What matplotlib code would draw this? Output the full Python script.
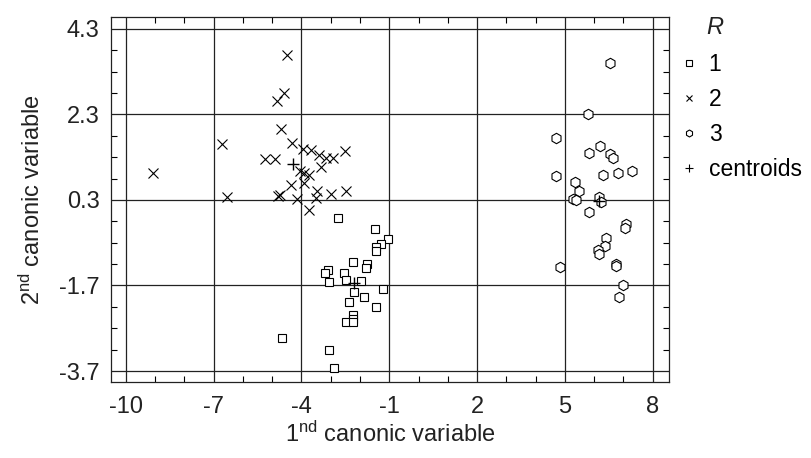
import matplotlib
matplotlib.use("Agg")
import matplotlib.pyplot as plt
from matplotlib.lines import Line2D
from matplotlib.ticker import MultipleLocator, FixedLocator

plt.rcParams['font.family'] = ['Liberation Sans', 'DejaVu Sans']
plt.rcParams['mathtext.fontset'] = 'custom'
plt.rcParams['mathtext.rm'] = 'Liberation Sans'
plt.rcParams['mathtext.it'] = 'Liberation Sans:italic'

# group R = 1 (squares)
r1_x = [-2.75, -1.50, -1.04, -1.28, -1.45, -1.45, -2.23, -1.75, -1.81, -3.08,
        -3.20, -2.55, -2.47, -3.07, -1.95, -2.22, -1.21, -1.87, -2.36, -1.46,
        -2.23, -2.23, -2.47, -2.23, -4.66, -3.05, -2.88]
r1_y = [-0.12, -0.38, -0.61, -0.74, -0.81, -0.90, -1.14, -1.19, -1.30, -1.33,
        -1.40, -1.40, -1.57, -1.61, -1.60, -1.86, -1.79, -1.96, -2.09, -2.21,
        -2.40, -2.49, -2.56, -2.56, -2.93, -3.20, -3.62]

# group R = 2 (crosses)
r2_x = [-4.49, -4.59, -4.82, -4.71, -6.71, -4.34, -3.94, -3.68, -3.39, -3.16,
        -2.94, -2.53, -5.26, -4.91, -9.07, -3.34, -4.06, -3.93, -3.76, -4.36,
        -3.93, -3.46, -3.00, -2.49, -6.55, -4.74, -4.80, -4.17, -3.52, -3.74]
r2_y = [3.70, 2.80, 2.61, 1.96, 1.60, 1.64, 1.50, 1.47, 1.34, 1.28,
        1.28, 1.45, 1.26, 1.26, 0.93, 1.06, 0.97, 0.93, 0.89, 0.65,
        0.70, 0.52, 0.45, 0.52, 0.38, 0.42, 0.39, 0.32, 0.35, 0.07]

# group R = 3 (circles)
r3_x = [6.54, 5.80, 4.70, 6.20, 5.84, 6.54, 6.65, 4.70, 6.31, 6.82,
        7.30, 5.34, 5.48, 5.28, 5.38, 6.15, 6.24, 5.84, 7.10, 7.05,
        6.40, 6.37, 6.12, 6.16, 4.85, 6.74, 6.76, 6.98, 6.84]
r3_y = [3.50, 2.30, 1.75, 1.55, 1.39, 1.37, 1.27, 0.85, 0.88, 0.92,
        0.98, 0.71, 0.52, 0.32, 0.30, 0.38, 0.25, 0.02, -0.27, -0.35,
        -0.60, -0.78, -0.87, -0.97, -1.26, -1.20, -1.24, -1.68, -1.96]

# centroids
cen_x = [-2.21, -4.29, 6.17]
cen_y = [-1.65, 1.14, 0.28]

x_ticks = [-10, -7, -4, -1, 2, 5, 8]
y_ticks = [-3.7, -1.7, 0.3, 2.3, 4.3]
legend_labels = ['1', '2', '3', 'centroids']

W, H = 811, 458
fig = plt.figure(figsize=(W / 100, H / 100), dpi=100)
ax = fig.add_axes([0.1365, 0.1666, 0.6888, 0.7956])

ax.plot(r1_x, r1_y, ls='none', marker='s', ms=6.2, mfc='white', mec='black', mew=0.8, zorder=3)
ax.plot(r2_x, r2_y, ls='none', marker='x', ms=7.5, color='black', mew=0.8, zorder=3)
ax.plot(r3_x, r3_y, ls='none', marker='h', ms=7.5, mfc='white', mec='black', mew=0.8, zorder=3)
ax.plot(cen_x, cen_y, ls='none', marker='+', ms=8, color='black', mew=1.0, zorder=4)

ax.set_xlim(-10.52, 8.57)
ax.set_ylim(-3.95, 4.57)
ax.xaxis.set_major_locator(FixedLocator(x_ticks))
ax.yaxis.set_major_locator(FixedLocator(y_ticks))
ax.set_xticklabels([str(t) for t in x_ticks])
ax.set_yticklabels([str(t) for t in y_ticks])
ax.xaxis.set_minor_locator(MultipleLocator(1))
ax.yaxis.set_minor_locator(FixedLocator([-3.7 + 0.5 * i for i in range(-1, 18)]))
ax.grid(True, which='major', color='#222222', lw=0.9)
ax.tick_params(which='both', direction='in', top=True, right=True, labelsize=17,
               pad=8, labelcolor='#222222')
ax.tick_params(axis='x', which='major', pad=10)
ax.tick_params(which='major', length=0)
ax.tick_params(which='minor', length=4, width=0.8)
for s in ax.spines.values():
    s.set_linewidth(0.9)
    s.set_color('#222222')

ax.set_xlabel(r'1$^{\mathrm{nd}}$ canonic variable', fontsize=17, color='#222222', labelpad=3)
ax.set_ylabel(r'2$^{\mathrm{nd}}$ canonic variable', fontsize=17, color='#222222', labelpad=10)

handles = [
    Line2D([], [], ls='none', marker='s', ms=4, mfc='white', mec='black', mew=0.8),
    Line2D([], [], ls='none', marker='x', ms=5, color='black', mew=0.8),
    Line2D([], [], ls='none', marker='h', ms=5, mfc='white', mec='black', mew=0.8),
    Line2D([], [], ls='none', marker='+', ms=6, color='black', mew=0.8),
]
ax.legend(handles, legend_labels, loc='upper left',
          bbox_to_anchor=(680 / W, 1 - 53 / H), bbox_transform=fig.transFigure,
          frameon=False, fontsize=16.5, handlelength=0.8, handletextpad=0.45,
          labelspacing=0.53, borderpad=0, borderaxespad=0)
fig.text(706 / W, 1 - 27 / H, 'R', fontsize=17, style='italic', color='#222222',
         ha='left', va='center')

fig.savefig('out.png', dpi=100)
